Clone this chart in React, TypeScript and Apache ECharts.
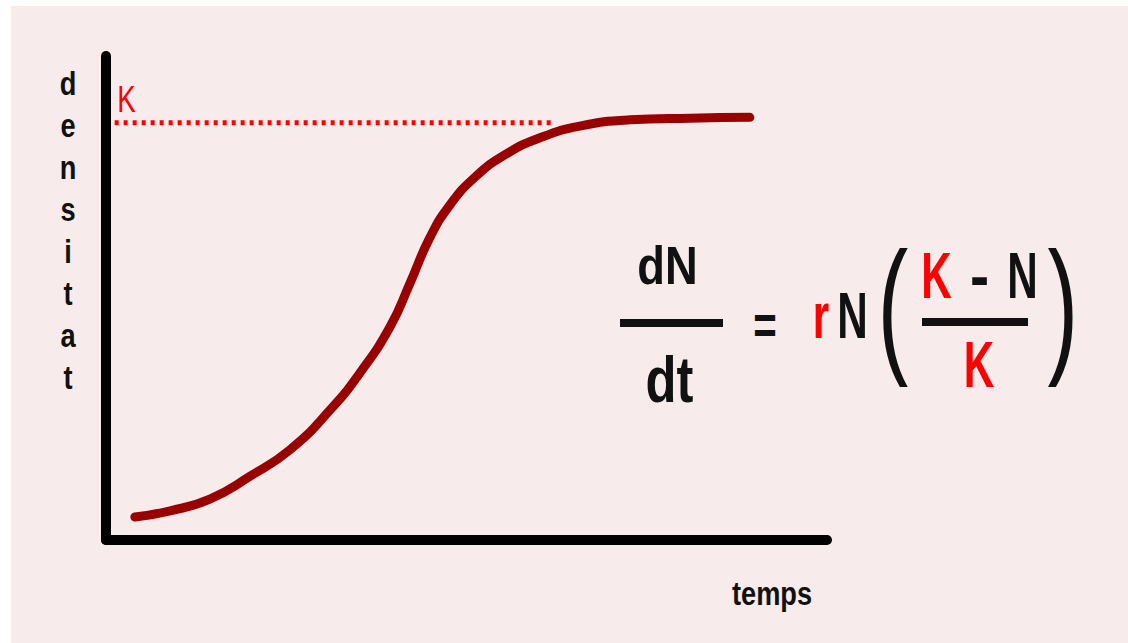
import React, { useEffect, useRef } from "react";
import * as echarts from "echarts";

// ---- data ----
const timeValues = [4.0, 8.9, 14.4, 20.0, 25.5, 31.1, 35.2, 39.4, 42.2, 44.9, 47.7, 51.2, 55.3, 60.2, 65.7, 72.7, 81.0, 89.3];
const densityValues = [5.5, 7.0, 9.8, 15.3, 21.6, 31.2, 40.0, 51.1, 61.7, 72.4, 80.3, 87.0, 92.3, 96.4, 99.2, 100.7, 101.1, 101.3];
const carryingCapacity = 100; // K
const kLineRange = [1.2, 62.3];
const xRange = [0, 100];
const yRange = [0, 116];
const yAxisTitle = "densitat";
const xAxisTitle = "temps";

const FONT = "'Liberation Sans', Arial, Helvetica, sans-serif";
const RED = "#ff0000";
const INK = "#111111";

function txt(
  text: string,
  x: number,
  y: number,
  fontSize: number,
  fill: string,
  scaleX: number,
  fontWeight: string = "bold",
  extra: any = {}
) {
  return {
    type: "text",
    x,
    y,
    scaleX,
    z: 10,
    style: {
      text,
      fill,
      fontSize,
      fontWeight,
      fontFamily: FONT,
      align: "center",
      verticalAlign: "middle",
      textAlign: "center",
      textVerticalAlign: "middle",
      ...extra,
    },
  };
}

export default function App() {
  const ref = useRef<HTMLDivElement>(null);
  useEffect(() => {
    if (!ref.current) return;
    const chart = echarts.init(ref.current, null, { renderer: "svg" });
    const curve = timeValues.map((t, i) => [t, densityValues[i]]);
    const kLine = kLineRange.map((t) => [t, carryingCapacity]);
    const option: any = {
      animation: false,
      backgroundColor: "#f7eceb",
      grid: { left: 106, top: 56, right: 301, bottom: 103 },
      xAxis: {
        type: "value",
        min: xRange[0],
        max: xRange[1],
        axisLine: { show: true, onZero: false, lineStyle: { color: "#000", width: 10, cap: "round" } },
        axisTick: { show: false },
        axisLabel: { show: false },
        splitLine: { show: false },
      },
      yAxis: {
        type: "value",
        min: yRange[0],
        max: yRange[1],
        axisLine: { show: true, onZero: false, lineStyle: { color: "#000", width: 10, cap: "round" } },
        axisTick: { show: false },
        axisLabel: { show: false },
        splitLine: { show: false },
      },
      series: [
        {
          type: "line",
          name: "K",
          data: kLine,
          symbol: "none",
          silent: true,
          lineStyle: { color: RED, width: 5, type: [4, 5], cap: "butt" },
          z: 2,
        },
        {
          type: "line",
          name: "N",
          data: curve,
          symbol: "none",
          smooth: 0.5,
          silent: true,
          lineStyle: { color: "#990000", width: 9, cap: "round", join: "round" },
          z: 3,
        },
      ],
      graphic: [
        { type: "rect", shape: { x: 0, y: 0, width: 11, height: 643 }, style: { fill: "#ffffff" }, z: 0 },
        { type: "rect", shape: { x: 0, y: 0, width: 1128, height: 6 }, style: { fill: "#ffffff" }, z: 0 },
        // axis titles
        txt(yAxisTitle.split("").join("\n"), 68, 62, 34, INK, 0.8, "bold", {
          verticalAlign: "top",
          textVerticalAlign: "top",
          lineHeight: 42,
        }),
        txt(xAxisTitle, 772, 593, 34, INK, 0.8),
        txt("K", 126.5, 99, 37, RED, 0.75, "normal"),
        // equation
        txt("dN", 667.5, 266, 54, INK, 0.84),
        { type: "rect", shape: { x: 620, y: 319, width: 103, height: 8 }, style: { fill: INK }, z: 10 },
        txt("dt", 669.5, 379.5, 65, INK, 0.78),
        txt("=", 765, 324, 56, INK, 0.72),
        txt("r", 821, 316, 64, RED, 0.66),
        txt("N", 852.5, 316, 64, INK, 0.66),
        txt("(", 893, 304, 149, INK, 0.62, "normal"),
        txt("K", 936.5, 276, 64, RED, 0.66),
        txt("-", 979.5, 276, 64, INK, 0.9),
        txt("N", 1022.5, 276, 64, INK, 0.66),
        { type: "rect", shape: { x: 922, y: 318, width: 106, height: 8 }, style: { fill: INK }, z: 10 },
        txt("K", 979, 365, 64, RED, 0.66),
        txt(")", 1063, 304, 149, INK, 0.62, "normal"),
      ],
    };
    chart.setOption(option);
    return () => chart.dispose();
  }, []);
  return (
    <div
      ref={ref}
      style={{ position: "absolute", left: 0, top: 0, width: 1128, height: 643 }}
    />
  );
}
